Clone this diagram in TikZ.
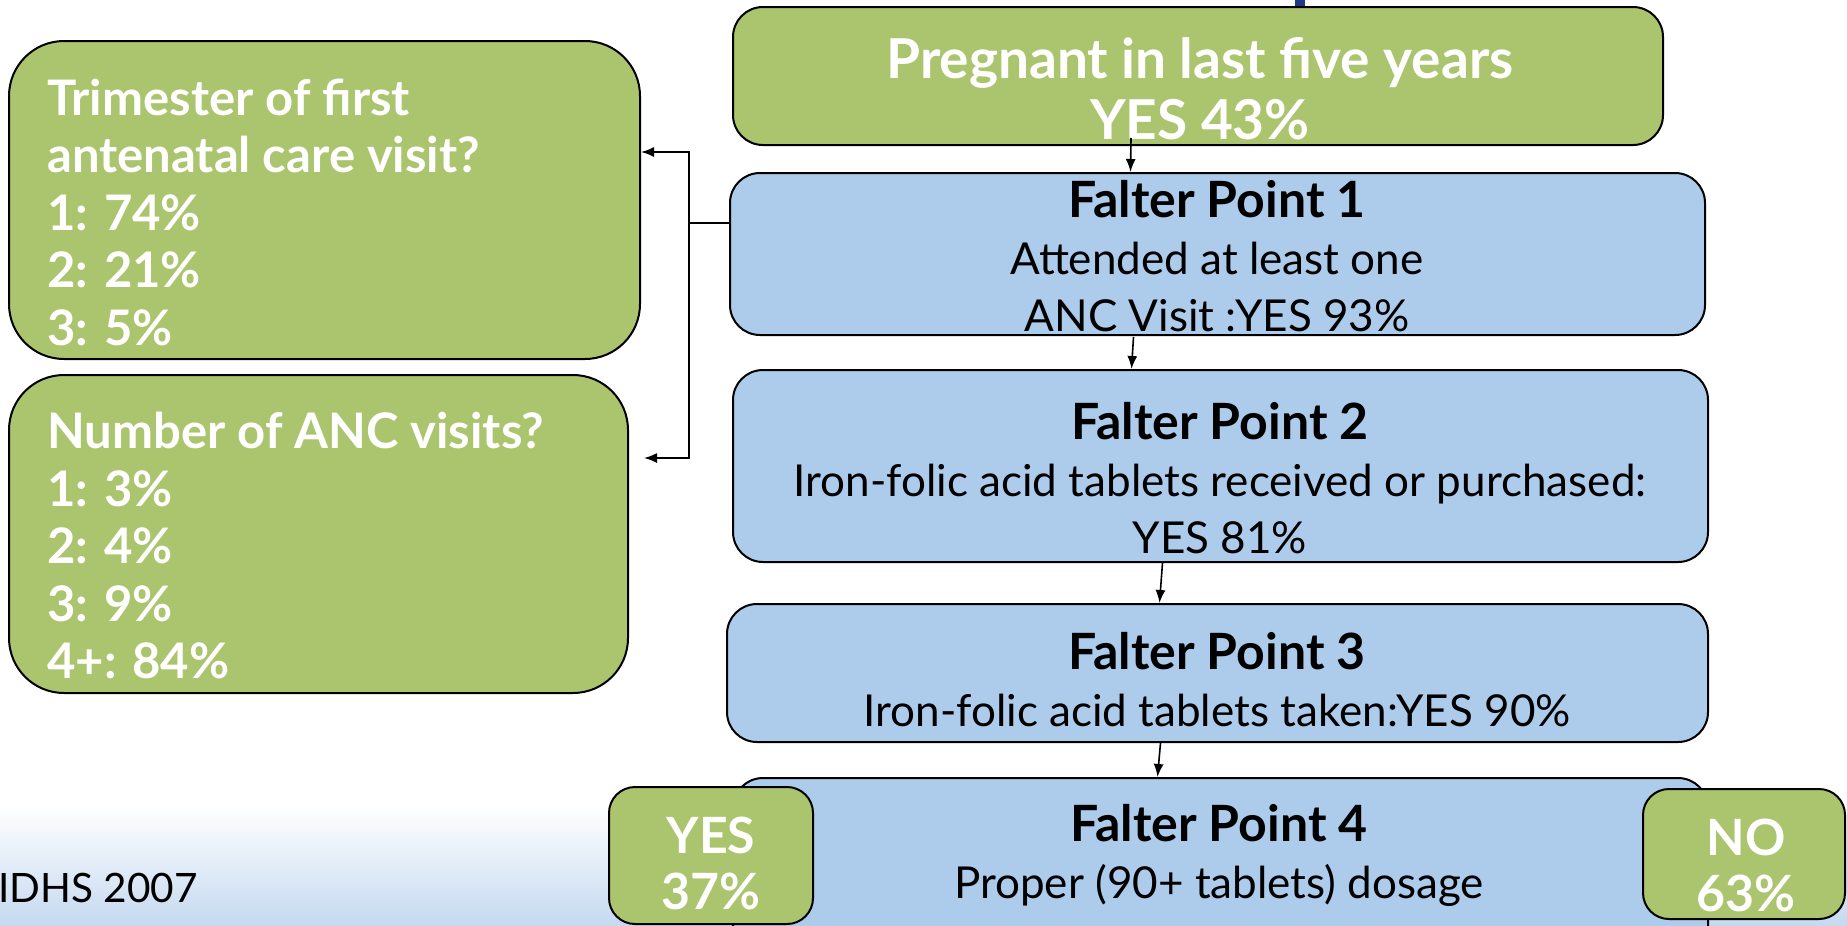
\documentclass[tikz,border=0pt]{standalone}
\usepackage{fontspec}
\setmainfont{Lato}
\usetikzlibrary{arrows.meta}
\definecolor{gfill}{RGB}{171,197,111}
\definecolor{bfill}{RGB}{173,203,234}
\definecolor{bgblue}{RGB}{197,217,240}
\definecolor{titleblue}{RGB}{31,56,130}
\newcommand{\fptitlefont}{\fontsize{50}{57}\selectfont\bfseries}
\begin{document}
\begin{tikzpicture}[x=1pt,y=-1pt,
  box/.style={draw=black, line width=2pt, inner sep=0pt, rounded corners=#1},
  box/.default=30pt,
  gbox/.style={box=#1, fill=gfill},
  gbox/.default=30pt,
  bbox/.style={box=#1, fill=bfill},
  bbox/.default=30pt,
  arr/.style={line width=1.6pt, -{Latex[length=13pt,width=10pt]}},
  link/.style={line width=1.6pt},
  wbig/.style={text=white, font=\fontsize{55}{61}\selectfont\bfseries, align=center, inner sep=0pt},
  wside/.style={text=white, font=\fontsize{49}{57.5}\selectfont\bfseries, align=left, inner sep=0pt},
  wsmall/.style={text=white, font=\fontsize{50}{56}\selectfont\bfseries, align=center, inner sep=0pt},
  fptext/.style={text=black, font=\fontsize{44}{57}\selectfont, align=center, inner sep=0pt},
  src/.style={text=black, font=\fontsize{40.5}{46}\selectfont, inner sep=0pt}
]
\useasboundingbox (0,0) rectangle (1847,926);
\clip (0,0) rectangle (1847,926);
% background
\fill[white] (0,0) rectangle (1847,810);
\shade[top color=white, bottom color=bgblue] (0,805) rectangle (1847,926);
\fill[titleblue] (1295,-2) rectangle (1305,6);

% left green boxes
\node[gbox=55pt, minimum width=631, minimum height=318] (g1) at (324.5,200) {};
\node[wside, anchor=west] (g1t) at (47,212) {Trimester of first\\antenatal care visit?\\1: 74\%\\2: 21\%\\3: 5\%};
\node[gbox=55pt, minimum width=619, minimum height=318] (g2) at (318.5,534) {};
\node[wside, anchor=west] (g2t) at (47,546) {Number of ANC visits?\\1: 3\%\\2: 4\%\\3: 9\%\\4+: 84\%};

% main column
\node[gbox=30pt, minimum width=930, minimum height=138] (top) at (1198,76) {};
\node[wbig] (topt) at (1200,89) {Pregnant in last five years\\YES 43\%};

\node[bbox=30pt, minimum width=975, minimum height=162] (fp1) at (1217.5,254) {};
\node[fptext] (fp1t) at (1217,256) {{\fptitlefont Falter Point 1}\\Attended at least one\\ANC Visit :YES 93\%};

\node[bbox=30pt, minimum width=975, minimum height=192] (fp2) at (1220.5,466) {};
\node[fptext] (fp2t) at (1220,478) {{\fptitlefont Falter Point 2}\\Iron-folic acid tablets received or purchased:\\YES 81\%};

\node[bbox=30pt, minimum width=981, minimum height=138] (fp3) at (1217.5,673) {};
\node[fptext] (fp3t) at (1217,680) {{\fptitlefont Falter Point 3}\\Iron-folic acid tablets taken:YES 90\%};

\node[bbox=30pt, minimum width=975, minimum height=240] (fp4) at (1220.5,898) {};
\node[fptext] (fp4t) at (1219,855) {{\fptitlefont Falter Point 4}\\Proper (90+ tablets) dosage};

\node[gbox=26pt, minimum width=204, minimum height=137] (yes) at (711,855.5) {};
\node[wsmall] (yest) at (711,863) {YES\\37\%};
\node[gbox=26pt, minimum width=202, minimum height=130] (no) at (1744,854) {};
\node[wsmall] (not) at (1746,865) {NO\\63\%};

\node[src, anchor=west] (srct) at (-2,888) {IDHS 2007};

% connectors down the column
\draw[arr] ([xshift=-67pt,yshift=8pt]top.south) -- ([xshift=-87pt]fp1.north);
\draw[arr] ([xshift=-84pt,yshift=-1pt]fp1.south) -- ([xshift=-89pt]fp2.north);
\draw[arr] ([xshift=-58pt]fp2.south) -- ([xshift=-58pt]fp3.north);
\draw[arr] ([xshift=-57pt]fp3.south) -- ([xshift=-63pt]fp4.north);

% bracket to the left boxes
\coordinate (jn) at (689,223);
\coordinate (jt) at (689,152);
\coordinate (jb) at (689,458);
\draw[link] (fp1.west |- jn) -- (jn);
\draw[arr] (jn) -- (jt) -- (g1.east |- jt);
\draw[arr] (jn) -- (jb) -- ([xshift=15pt]g2.east |- jb);
\end{tikzpicture}
\end{document}
